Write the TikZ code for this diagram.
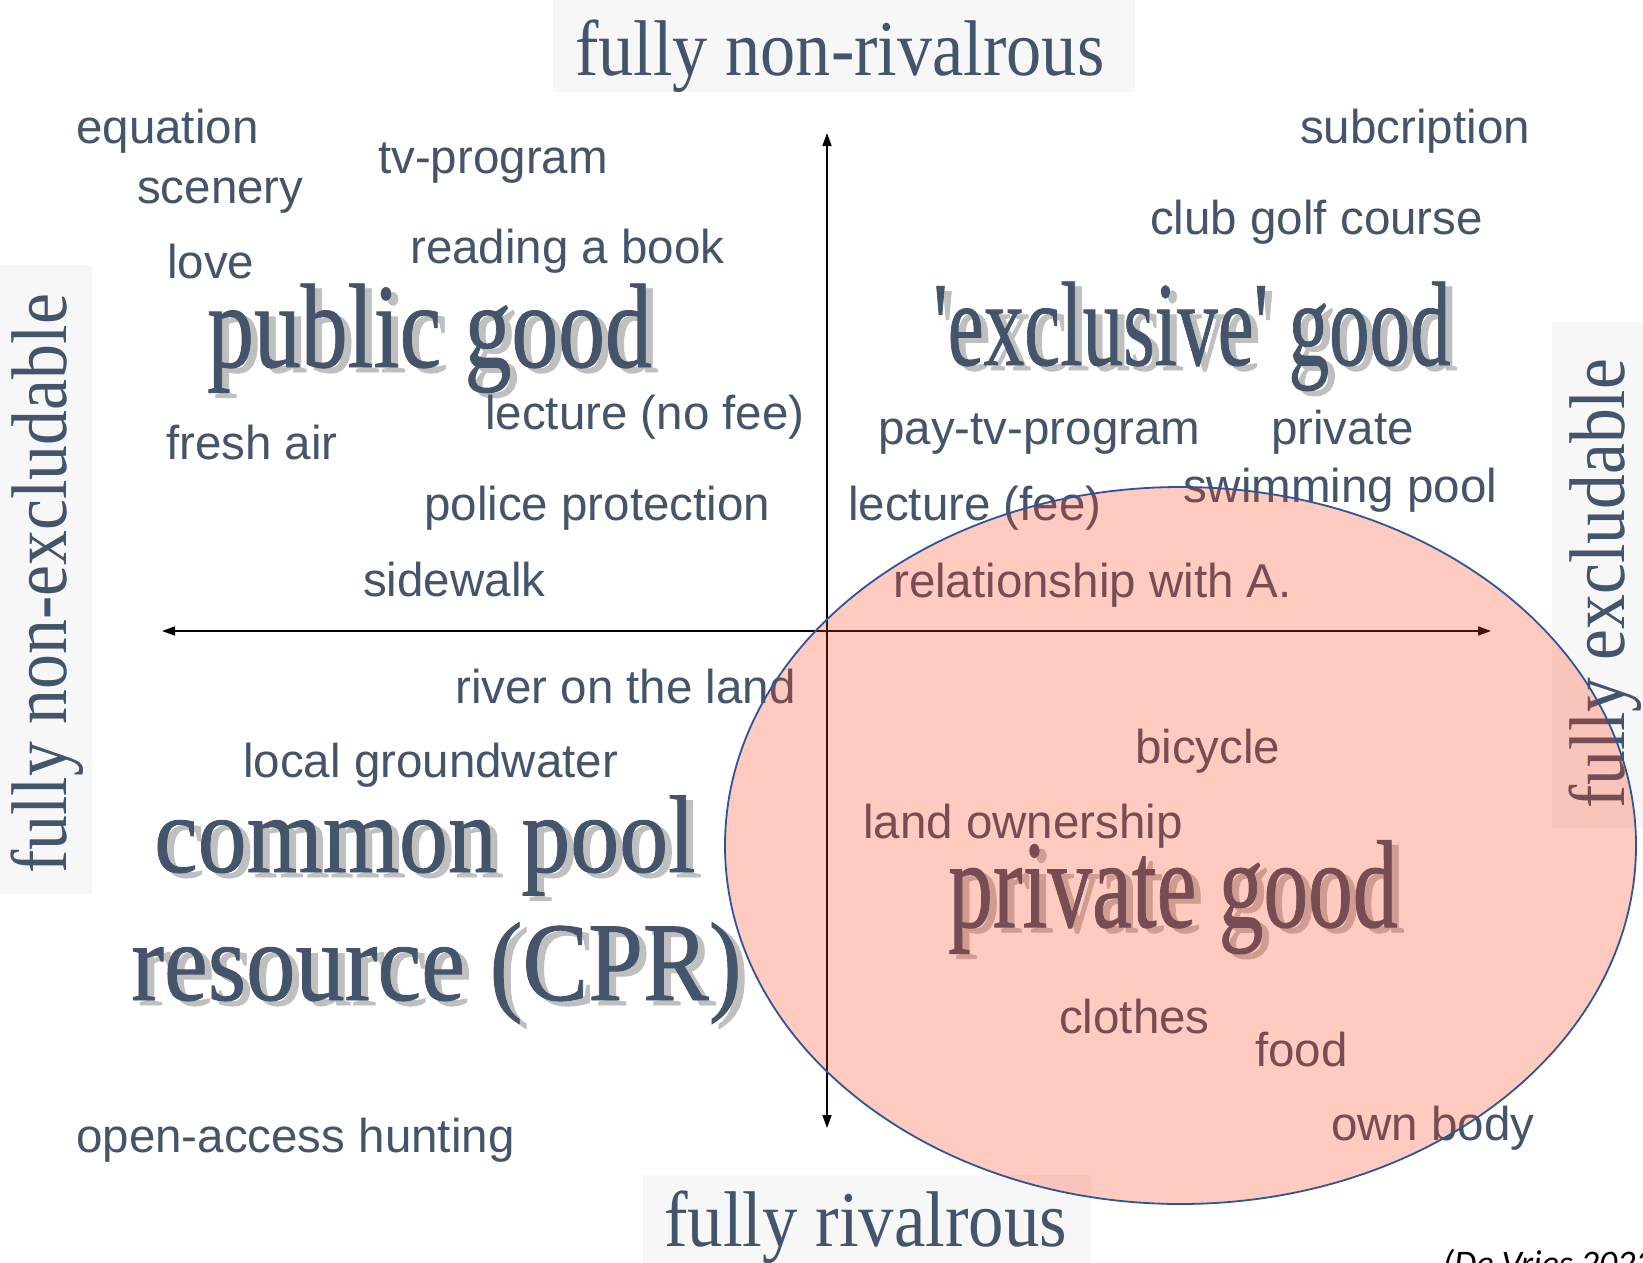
\documentclass[tikz,border=0pt]{standalone}
\usepackage{fontspec}
\setmainfont{Liberation Serif}
\newfontfamily\bigserif{Liberation Serif}[FakeBold=0.8]
\newfontfamily\sansf{Liberation Sans}
\newfontfamily\calibf{Carlito}
\usetikzlibrary{arrows.meta}
\definecolor{txt}{HTML}{44546A}
\definecolor{shd}{HTML}{BFBFBF}
\definecolor{boxbg}{HTML}{F7F7F7}
\definecolor{ellfill}{RGB}{255,60,20}
\definecolor{ellline}{HTML}{2F5597}
\tikzset{
  lbl/.style={font=\sansf\fontsize{47.5}{50}\selectfont, text=txt, inner sep=0pt, anchor=base west},
  big/.style={font=\bigserif\fontsize{#1}{#1}\selectfont, text=txt, inner sep=0pt, anchor=base west},
  bigsh/.style={big=#1, text=shd},
  axlbl/.style={font=\fontsize{79}{80}\selectfont, text=txt, inner sep=0pt, anchor=base west},
  axbox/.style={fill=boxbg, draw=none},
  axisline/.style={line width=1.5pt, {Triangle[length=13pt,width=9pt]}-{Triangle[length=13pt,width=9pt]}},
}
\begin{document}
\begin{tikzpicture}[x=1pt,y=-1pt]
\useasboundingbox (0,0) rectangle (1643,1263);
\clip (0,0) rectangle (1643,1263);
\fill[white] (0,0) rectangle (1643,1263);
% axis label boxes
\fill[axbox] (553,0) rectangle (1135,92);
\fill[axbox] (643,1175) rectangle (1091,1263);
\fill[axbox] (0,265) rectangle (92,894);
\fill[axbox] (1552,322) rectangle (1643,828);
\node[axlbl] (toplbl) at (575,75) {\scalebox{0.89}[1]{fully non-rivalrous}};
\node[axlbl] (botlbl) at (664,1246) {\scalebox{0.896}[1]{fully rivalrous}};
\node[axlbl, rotate=90] (leftlbl) at (66,874) {\scalebox{0.884}[1]{fully non-excludable}};
\node[axlbl, rotate=90] (rightlbl) at (1624,809) {\scalebox{0.88}[1]{fully excludable}};
% axes
\coordinate (vtop) at (827,133);
\coordinate (vbot) at (827,1128);
\coordinate (hleft) at (162,631);
\coordinate (hright) at (1491,631);
\draw[axisline] (vbot) -- (vtop);
\draw[axisline] (hleft) -- (hright);
% big labels with shadows
\node[bigsh=120] (pubsh) at (214,372) {\scalebox{0.78}[1]{public good}};
\node[big=120] (pub) at (207,367) {\scalebox{0.78}[1]{public good}};
\node[bigsh=120] (excsh) at (940,370) {\scalebox{0.675}[1]{\textquotesingle exclusive\textquotesingle{} good}};
\node[big=120] (exc) at (933,365) {\scalebox{0.675}[1]{\textquotesingle exclusive\textquotesingle{} good}};
\node[bigsh=110] (comsh) at (161,877) {\scalebox{0.89}[1]{common pool}};
\node[big=110] (com) at (154,872) {\scalebox{0.89}[1]{common pool}};
\node[bigsh=112] (ressh) at (138,1005) {\scalebox{0.88}[1]{resource (CPR)}};
\node[big=112] (res) at (131,1000) {\scalebox{0.88}[1]{resource (CPR)}};
\node[bigsh=125] (privsh) at (955,932) {\scalebox{0.715}[1]{private good}};
\node[big=125] (priv) at (948,927) {\scalebox{0.715}[1]{private good}};
% small labels
\node[lbl] (equation) at (76,143) {equation};
\node[lbl] (scenery) at (137,203) {scenery};
\node[lbl] (love) at (167,278) {love};
\node[lbl] (freshair) at (166,459) {fresh air};
\node[lbl] (tvprog) at (378,173) {tv-program};
\node[lbl] (reading) at (410,263) {reading a book};
\node[lbl] (lecnofee) at (485,429) {lecture (no fee)};
\node[lbl] (police) at (424,520) {police protection};
\node[lbl] (sidewalk) at (363,596) {sidewalk};
\node[lbl] (subcr) at (1300,143) {subcription};
\node[lbl] (golf) at (1150,234) {club golf course};
\node[lbl] (paytv) at (878,444) {pay-tv-program};
\node[lbl] (private) at (1271,444) {private};
\node[lbl] (swim) at (1183,502) {swimming pool};
\node[lbl] (lecfee) at (848,520) {lecture (fee)};
\node[lbl] (relation) at (893,597) {relationship with A.};
\node[lbl] (river) at (455,703) {river on the land};
\node[lbl] (ground) at (243,777) {local groundwater};
\node[lbl] (hunting) at (76,1152) {open-access hunting};
\node[lbl] (bicycle) at (1135,763) {bicycle};
\node[lbl] (land) at (863,838) {land ownership};
\node[lbl] (clothes) at (1059,1033) {clothes};
\node[lbl] (food) at (1255,1066) {food};
\node[lbl] (body) at (1331,1140) {own body};
% ellipse (private goods region)
\fill[ellfill, fill opacity=0.27] (1180.5,845.5) ellipse [x radius=455.5, y radius=358.5];
\draw[ellline, line width=1.8pt] (1180.5,845.5) ellipse [x radius=455.5, y radius=358.5];
% citation
\node[font=\calibf\itshape\fontsize{36}{40}\selectfont, inner sep=0pt, anchor=base west] (cite) at (1443,1275) {(De Vries 2023)};
\end{tikzpicture}
\end{document}
